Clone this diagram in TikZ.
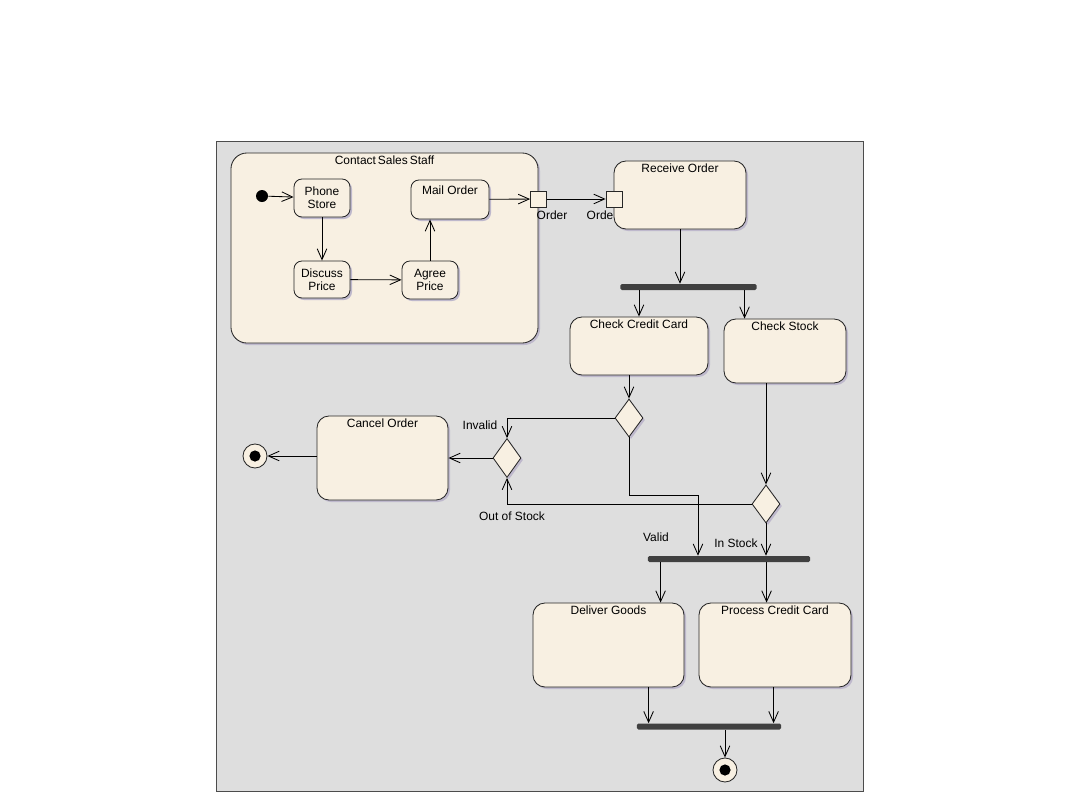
\documentclass[tikz,border=0pt]{standalone}
\usepackage{fontspec}
\setmainfont{Liberation Sans}
\usepackage{xcolor}
\usetikzlibrary{positioning,shapes.geometric,arrows.meta,calc,shadows}
\definecolor{cream}{RGB}{248,240,226}
\definecolor{panel}{RGB}{222,222,222}
\definecolor{barc}{RGB}{64,64,64}
\definecolor{shade}{RGB}{190,184,204}
\tikzset{
    every node/.style={font=\fontsize{8.5}{9.5}\selectfont},
    boxshadow/.style={drop shadow={shadow xshift=0.05cm, shadow yshift=-0.05cm, fill=shade, opacity=1}},
    group/.style={draw=black!85, line width=0.6pt, fill=cream, rounded corners=0.4cm, boxshadow},
    action/.style={draw=black!85, line width=0.6pt, fill=cream, rounded corners=0.3cm, boxshadow},
    subaction/.style={draw=black!85, line width=0.6pt, fill=cream, rounded corners=0.2cm, align=center, inner sep=0pt, boxshadow},
    title/.style={anchor=north, inner sep=2pt},
    pin/.style={draw=black!85, line width=0.6pt, fill=cream, minimum size=0.4cm, inner sep=0pt},
    decision/.style={diamond, draw=black!85, line width=0.6pt, fill=cream, minimum width=0.7cm, minimum height=0.95cm, inner sep=0pt, boxshadow},
    bar/.style={rectangle, fill=barc, rounded corners=1pt, minimum height=0.15cm, inner sep=0pt},
    start/.style={circle, fill=black, minimum size=0.3cm, inner sep=0pt},
    finish/.style={circle, draw=black!85, line width=0.6pt, fill=cream, minimum size=0.6cm, inner sep=0pt,
        path picture={\fill[black] (path picture bounding box.center) circle (0.14cm);}},
    flow/.style={-{Straight Barb[length=2.7mm, width=2.4mm]}, line width=0.6pt},
    edgelab/.style={inner sep=1pt}
}

\begin{document}
\begin{tikzpicture}[x=0.025cm, y=-0.025cm]
    \useasboundingbox (0,0) rectangle (1080,810);
    \draw[draw=black!70, line width=0.6pt, fill=panel] (216,141) rectangle (863,791);

    \node[group, minimum width=7.675cm, minimum height=4.75cm, label={[title]north:Contact\,Sales\,Staff}] (css) at (384.5,248) {};
    \node[start] (init) at (262,196) {};
    \node[subaction, minimum width=1.4cm, minimum height=0.95cm] (ps) at (322,198) {Phone\\Store};
    \node[subaction, minimum width=1.95cm, minimum height=0.975cm, label={[title, inner sep=4pt]north:Mail Order}] (mo) at (450,199.5) {};
    \node[subaction, minimum width=1.4cm, minimum height=0.925cm] (dp) at (322,279.5) {Discuss\\Price};
    \node[subaction, minimum width=1.4cm, minimum height=0.95cm] (ap) at (430,280) {Agree\\Price};

    \node[edgelab, anchor=north] (lbin) at (602,209) {Order};
    \node[action, minimum width=3.3cm, minimum height=1.7cm, label={[title]north:Receive Order}] (ro) at (680,195) {};
    \node[pin] (pinout) at (538.5,199) {};
    \node[pin] (pinin) at (614,199) {};
    \node[edgelab, anchor=north] (lbout) at ([xshift=0.3375cm, yshift=-0.05cm]pinout.south) {Order};

    \node[bar, minimum width=3.4cm] (fork1) at (688.5,287) {};
    \node[action, minimum width=3.45cm, minimum height=1.45cm, label={[title]north:Check Credit Card}] (ccc) at (639,346) {};
    \node[action, minimum width=3.05cm, minimum height=1.6cm, label={[title]north:Check Stock}] (cs) at (785,351) {};
    \node[decision] (d1) at (629,418) {};
    \node[decision] (d2) at (766,504) {};
    \node[decision, minimum height=0.975cm] (d3) at (507,458) {};
    \node[action, minimum width=3.275cm, minimum height=2.1cm, label={[title]north:Cancel Order}] (co) at (382.5,458) {};
    \node[finish] (fin1) at (255,456) {};

    \node[bar, minimum width=4.05cm] (fork2) at (729,559) {};
    \node[action, minimum width=3.775cm, minimum height=2.1cm, label={[title]north:Deliver Goods}] (dg) at (608.5,645) {};
    \node[action, minimum width=3.8cm, minimum height=2.1cm, label={[title]north:Process Credit Card}] (pcc) at (775,645) {};
    \node[bar, minimum width=3.6cm] (fork3) at (709,726.5) {};
    \node[finish] (fin2) at (725,770) {};

    \coordinate (csin) at ([xshift=0.525cm]cs.north west);
    \coordinate (dgin) at ([xshift=3.2cm]dg.north west);
    \coordinate (pccin) at ([xshift=1.7cm]pcc.north west);
    \coordinate (dgout) at ([xshift=2.9cm]dg.south west);
    \coordinate (pccout) at ([xshift=1.875cm]pcc.south west);
    \coordinate (vbend) at (698,495);

    \draw[flow] (init) -- (ps);
    \draw[flow] (ps) -- (dp);
    \draw[flow] (dp) -- (ap);
    \draw[flow] (ap.north) -- (ap.north |- mo.south);
    \draw[flow] (mo) -- (pinout);
    \draw[flow] (pinout) -- (pinin);
    \draw[flow] (ro.south) -- (ro.south |- fork1.north);
    \draw[flow] (fork1.south -| ccc.north) -- (ccc.north);
    \draw[flow] (fork1.south -| csin) -- (csin);
    \draw[flow] (d1.north |- ccc.south) -- (d1.north);
    \draw[flow] (d2.north |- cs.south) -- (d2.north);
    \draw[flow] (d1.west) -| (d3.north);
    \draw[flow] (d2.west) -| (d3.south);
    \draw[flow] (d3.west) -- (co.east);
    \draw[flow] (fin1.east -| co.west) -- (fin1.east);
    \draw[flow] (d1.south) |- (vbend) -- (vbend |- fork2.north);
    \draw[flow] (d2.south) -- (d2.south |- fork2.north);
    \draw[flow] (fork2.south -| dgin) -- (dgin);
    \draw[flow] (fork2.south -| pccin) -- (pccin);
    \draw[flow] (dgout) -- (dgout |- fork3.north);
    \draw[flow] (pccout) -- (pccout |- fork3.north);
    \draw[flow] (fin2 |- fork3.south) -- (fin2.north);

    \node[edgelab] (lbinvalid) at ($(d3.north)+(-27,-13)$) {Invalid};
    \node[edgelab] (lboos) at ($(d3.south)+(5,38)$) {Out of Stock};
    \node[edgelab] (lbvalid) at ($(vbend)+(-42,42)$) {Valid};
    \node[edgelab] (lbinstock) at ($(d2.south)+(-30,20)$) {In Stock};
\end{tikzpicture}
\end{document}
